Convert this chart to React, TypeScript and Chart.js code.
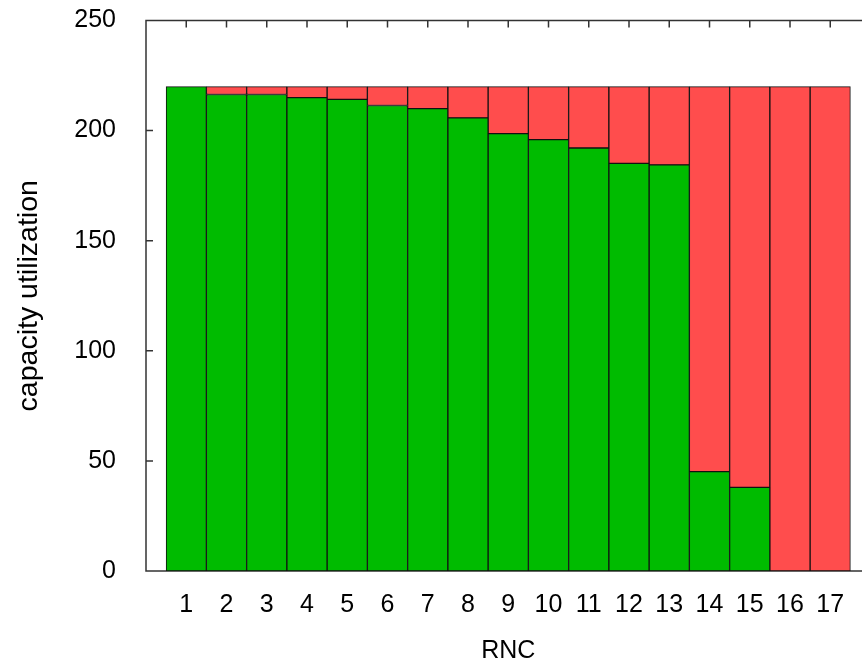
import React, { useEffect, useRef } from "react";
import { Chart, registerables } from "chart.js";

Chart.register(...registerables);

const categories = ["", "1", "2", "3", "4", "5", "6", "7", "8", "9", "10", "11", "12", "13", "14", "15", "16", "17", ""];
const usedCapacity = [null, 220, 216.4, 216.4, 215, 214.2, 211.4, 210, 205.8, 198.6, 195.9, 192.1, 185.1, 184.4, 45.1, 38, 0, 0, null];
const freeCapacity = [null, 0, 3.6, 3.6, 5, 5.8, 8.6, 10, 14.2, 21.4, 24.1, 27.9, 34.9, 35.6, 174.9, 182, 220, 220, null];
const yTicks = [0, 50, 100, 150, 200, 250];

const FONT = "'Liberation Sans', Arial, sans-serif";

const framePlugin = {
  id: "frame",
  beforeDatasetsDraw(chart: any) {
    const { ctx, chartArea, scales } = chart;
    const { left, right, top, bottom } = chartArea;
    const x = scales.x;
    const y = scales.y;
    ctx.save();
    ctx.strokeStyle = "#333";
    ctx.lineWidth = 1.5;
    ctx.beginPath();
    ctx.moveTo(right, top);
    ctx.lineTo(left, top);
    ctx.lineTo(left, bottom);
    ctx.lineTo(right, bottom);
    ctx.lineTo(right, top);
    for (const v of yTicks) {
      const p = y.getPixelForValue(v);
      ctx.moveTo(left, p);
      ctx.lineTo(left + 7, p);
      ctx.moveTo(right, p);
      ctx.lineTo(right - 7, p);
    }
    categories.forEach((c, i) => {
      if (!c) return;
      const p = x.getPixelForValue(i);
      ctx.moveTo(p, top);
      ctx.lineTo(p, top + 7);
      ctx.moveTo(p, bottom);
      ctx.lineTo(p, bottom - 7);
    });
    ctx.stroke();
    ctx.restore();
  },
};

export default function App() {
  const ref = useRef<HTMLCanvasElement | null>(null);

  useEffect(() => {
    if (!ref.current) return;
    const chart = new Chart(ref.current, {
      type: "bar",
      data: {
        labels: categories,
        datasets: [
          {
            label: "used",
            data: usedCapacity,
            backgroundColor: "#00bb00",
            borderColor: "#111",
            borderWidth: 1,
            borderSkipped: false,
            barPercentage: 1,
            categoryPercentage: 1,
          },
          {
            label: "free",
            data: freeCapacity,
            backgroundColor: "#ff4d4d",
            borderColor: "#111",
            borderWidth: 1,
            borderSkipped: false,
            barPercentage: 1,
            categoryPercentage: 1,
          },
        ],
      },
      options: {
        responsive: false,
        animation: false,
        devicePixelRatio: 1,
        layout: { padding: { left: 0, top: 20.5, right: 29.5, bottom: 0 } },
        plugins: { legend: { display: false }, tooltip: { enabled: false } },
        scales: {
          x: {
            stacked: true,
            offset: false,
            grid: { display: false },
            border: { display: false },
            ticks: {
              autoSkip: false,
              maxRotation: 0,
              padding: 11,
              color: "#000",
              font: { family: FONT, size: 25 },
            },
            title: {
              display: true,
              text: "RNC",
              color: "#000",
              font: { family: FONT, size: 25 },
              padding: { top: 0, bottom: 0 },
            },
            afterFit(scale: any) {
              scale.height = 95;
              scale.paddingLeft = 0;
              scale.paddingRight = 0;
            },
          },
          y: {
            stacked: true,
            min: 0,
            max: 250,
            grid: { display: false },
            border: { display: false },
            afterBuildTicks(scale: any) {
              scale.ticks = yTicks.map((v) => ({ value: v }));
            },
            ticks: {
              padding: 22,
              color: "#000",
              font: { family: FONT, size: 25 },
            },
            title: {
              display: true,
              text: "capacity utilization",
              color: "#000",
              font: { family: FONT, size: 28.5 },
              padding: { top: 12, bottom: 0 },
            },
            afterFit(scale: any) {
              scale.width = 146;
              scale.paddingTop = 0;
              scale.paddingBottom = 0;
            },
          },
        },
      },
      plugins: [framePlugin],
    });
    return () => chart.destroy();
  }, []);

  return (
    <div style={{ position: "fixed", left: 0, top: 0, width: 862, height: 666, overflow: "hidden", background: "#fff" }}>
      <canvas ref={ref} width={900} height={666} style={{ display: "block", width: 900, height: 666 }} />
    </div>
  );
}
